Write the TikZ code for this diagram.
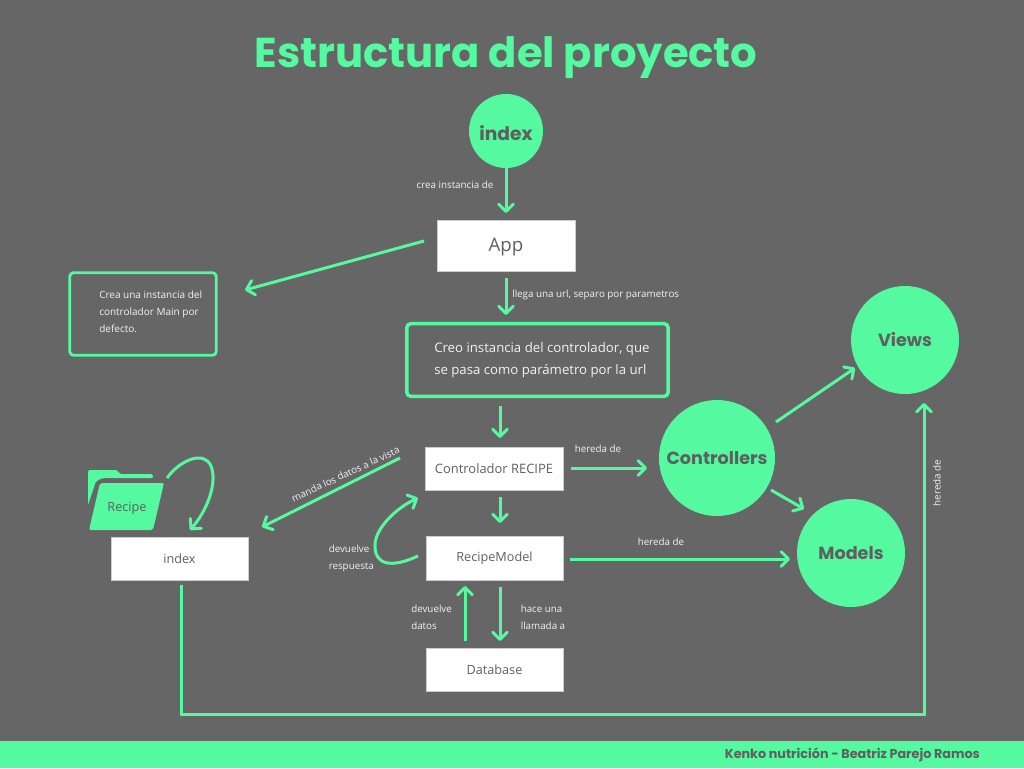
\documentclass[tikz,border=0pt]{standalone}
\usepackage{fontspec}
\setmainfont{Open Sans}
\newfontfamily\titlefont{Poppins}
\usetikzlibrary{arrows.meta}
\definecolor{bggray}{HTML}{666666}
\definecolor{mint}{HTML}{54F9A0}
\definecolor{darktxt}{HTML}{5F5F5F}
\definecolor{ltxt}{HTML}{F2F2F2}
\tikzset{
  x=0.75pt,y=-0.75pt,
  conn/.style={draw=mint,line width=2.25pt,-{Straight Barb[length=5.5pt,width=11pt,line cap=round,line join=round]}},
  circ/.style={circle,fill=mint,inner sep=0pt,text=darktxt,font=\titlefont\bfseries\fontsize{13.2}{16}\selectfont},
  wbox/.style={fill=white,draw=white!80!black,line width=.4pt,inner sep=0pt,text=darktxt,font=\fontsize{9.5}{11}\selectfont},
  gbox/.style={draw=mint,rounded corners=3pt,inner sep=0pt,fill=bggray},
  lab/.style={text=ltxt,font=\fontsize{7.35}{12.75}\selectfont,inner sep=0pt,align=left},
}
\begin{document}
\begin{tikzpicture}
\useasboundingbox (0,0) rectangle (1024,768);
\fill[bggray] (0,0) rectangle (1024,768);
\fill[mint] (0,741) rectangle (1024,768);
\node[text=mint,inner sep=0pt,font=\titlefont\bfseries\fontsize{31.3}{36}\selectfont] (title) at (506,58) {Estructura del proyecto};
\node[text=darktxt,inner sep=0pt,anchor=east,font=\titlefont\bfseries\fontsize{9.55}{11}\selectfont] (footer) at (980,755) {Kenko nutrición - Beatriz Parejo Ramos};

% circles
\node[circ,minimum size=55.5pt] (cindex) at (506,131) {};
\node[text=darktxt,inner sep=0pt,font=\titlefont\bfseries\fontsize{14}{16}\selectfont] at (506,133) {index};
\node[circ,minimum size=81pt] (views) at (905,340) {Views};
\node[circ,minimum size=87pt] (controllers) at (717,458) {Controllers};
\node[circ,minimum size=81pt] (models) at (851,553) {Models};

% boxes
\node[wbox,minimum width=103.5pt,minimum height=38.25pt] (app) at (506,245.5) {};
\node[text=darktxt,inner sep=0pt,font=\fontsize{14}{16}\selectfont] (apptxt) at (506,247) {App};
\node[wbox,minimum width=103.5pt,minimum height=32.25pt,font=\fontsize{9.7}{11}\selectfont] (ctrl) at (494,468.5) {Controlador RECIPE};
\node[wbox,minimum width=103pt,minimum height=33pt] (rmodel) at (494.5,558) {RecipeModel};
\node[wbox,minimum width=103pt,minimum height=32.25pt] (db) at (494.5,669.5) {Database};
\node[wbox,minimum width=103pt,minimum height=32.25pt] (bindex) at (179.5,558.5) {index};
\node[gbox,line width=2.1pt,minimum width=110pt,minimum height=62pt] (crea) at (143,314) {};
\node[gbox,line width=2.6pt,minimum width=196pt,minimum height=54.5pt] (creo) at (537.5,360) {};
\node[lab,anchor=north west,font=\fontsize{7.5}{12.75}\selectfont] (creatxt) at (99,290.5) {Crea una instancia del\\controlador Main por\\defecto.};
\node[lab,anchor=north west,font=\fontsize{9.9}{16.6}\selectfont] (creotxt) at (434,342.5) {Creo instancia del controlador, que\\se pasa como parámetro por la url};

% folder
\fill[mint,rounded corners=1.5pt] (88,505) -- (88,470) -- (118,470) -- (119,474) -- (153,474) -- (153.5,478) -- (103,478) -- (96,481) -- (94,487) -- cycle;
\fill[mint,rounded corners=1.5pt] (100,483) -- (164,483) -- (153,530) -- (89,530) -- cycle;
\node[text=darktxt,inner sep=0pt,font=\fontsize{9.5}{11}\selectfont] (folder) at (127,508) {Recipe};

% connectors
\draw[conn,shorten <=0pt,shorten >=5pt] (cindex.south) -- (app.north);
\coordinate (appw) at (424,241);
\coordinate (creae) at (245,290);
\draw[conn] (appw) -- (creae);
\coordinate (apps) at (506,278);
\coordinate (creon) at (506,315);
\draw[conn] (apps) -- (creon);
\coordinate (creos) at (500,406);
\coordinate (ctrln) at (500,438);
\draw[conn] (creos) -- (ctrln);
\coordinate (ctrls) at (500,497);
\coordinate (rmn) at (500,523);
\draw[conn] (ctrls) -- (rmn);
\coordinate (ctrle) at (571,468);
\coordinate (conw) at (647,468);
\draw[conn] (ctrle) -- (conw);
\coordinate (conne) at (776,422);
\coordinate (viewsw) at (855,368);
\draw[conn] (conne) -- (viewsw);
\coordinate (conse) at (771,490);
\coordinate (modnw) at (804,509);
\draw[conn] (conse) -- (modnw);
\coordinate (rme) at (570,559);
\coordinate (modw) at (790,559);
\draw[conn] (rme) -- (modw);
\coordinate (rms) at (500,587);
\coordinate (dbn) at (500,641);
\draw[conn] (rms) -- (dbn);
\coordinate (dbn2) at (465,641);
\coordinate (rms2) at (465,586);
\draw[conn] (dbn2) -- (rms2);
\coordinate (ctrlw) at (400,458);
\coordinate (bie) at (262,527);
\draw[conn] (ctrlw) -- (bie);
\coordinate (loopa) at (418,556);
\coordinate (loopb) at (418,498);
\draw[conn] (loopa) .. controls (392,568) and (374,566) .. (375,544) .. controls (376,528) and (396,508) .. (loopb);
\coordinate (foldera) at (167,478);
\coordinate (folderb) at (190,530);
\draw[conn] (foldera) .. controls (180,460) and (204,450) .. (211,466) .. controls (218,484) and (206,512) .. (folderb);
\coordinate (bis) at (181,585);
\coordinate (viewss) at (924,403);
\draw[conn] (bis) -- (181,714) -- (924,714) -- (viewss);

% labels
\node[lab] (l1) at (455,184.5) {crea instancia de};
\node[lab,anchor=west] (l2) at (512,294.5) {llega una url, separo por parametros};
\node[lab] (l3) at (598,449) {hereda de};
\node[lab] (l4) at (661,542) {hereda de};
\node[lab,rotate=90] (l5) at (937,483) {hereda de};
\node[lab,rotate=25] (l6) at (345.5,474) {manda los datos a la vista};
\node[lab,anchor=north west] (l7) at (328.5,545) {devuelve\\respuesta};
\node[lab,anchor=north west] (l8) at (411,605) {devuelve\\datos};
\node[lab,anchor=north west] (l9) at (520.5,605) {hace una\\llamada a};
\end{tikzpicture}
\end{document}
